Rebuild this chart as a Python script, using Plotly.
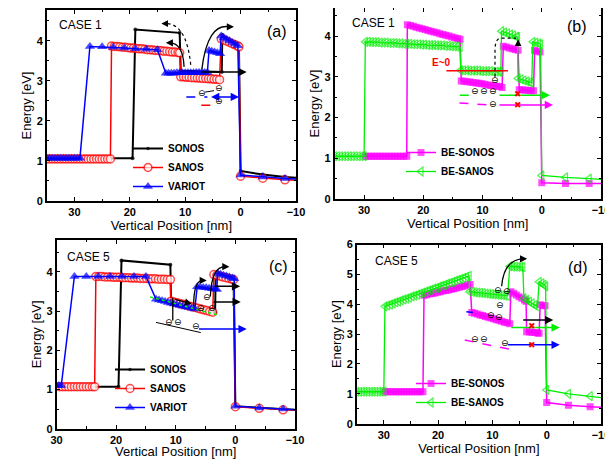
import plotly.graph_objects as go

# ---------------- data ----------------
# Panel (a): CASE 1
A_SONOS_X = [35.0, 19.5, 19.0, 11.0, 10.8, 3.4, 3.3, 0.3, 0.0, -4.0, -8.0, -10.0]
A_SONOS_Y = [1.07, 1.07, 4.28, 4.20, 3.25, 3.22, 4.15, 3.87, 0.75, 0.66, 0.60, 0.58]

A_SANOS_X = [35.0, 34.5, 34.0, 33.5, 33.0, 32.5, 32.0, 31.5, 31.0, 30.5, 30.0, 29.5,
             29.0, 28.5, 28.0, 27.5, 27.0, 26.5, 26.0, 25.5, 25.0, 24.5, 24.0, 23.5,
             23.3, 22.8, 22.3, 21.8, 21.3, 20.8, 20.3, 19.8, 19.3, 18.8, 18.3, 17.8, 17.3,
             16.8, 16.3, 15.8, 15.3, 14.8, 14.3, 13.8, 13.3, 12.8, 12.3, 11.8, 11.3, 11.0,
             10.8, 10.3, 9.8, 9.3, 8.8, 8.3, 7.8, 7.3, 6.8, 6.3, 5.8, 5.3, 4.8, 4.3, 3.8,
             3.5, 3.0, 2.5, 2.0, 1.5, 1.0, 0.5, 0.3,
             0.0, -4.0, -8.0, -10.0]
A_SANOS_Y = [1.05, 1.05, 1.05, 1.05, 1.05, 1.05, 1.05, 1.05, 1.05, 1.05, 1.05, 1.05,
             1.05, 1.05, 1.05, 1.05, 1.05, 1.05, 1.05, 1.05, 1.05, 1.05, 1.05, 1.05,
             3.87, 3.86, 3.86, 3.85, 3.84, 3.84, 3.83, 3.82, 3.82, 3.81, 3.80, 3.80, 3.79,
             3.78, 3.78, 3.77, 3.76, 3.76, 3.75, 3.74, 3.74, 3.73, 3.72, 3.72, 3.71, 3.70,
             3.10, 3.10, 3.09, 3.09, 3.08, 3.08, 3.07, 3.07, 3.06, 3.06, 3.05, 3.05, 3.04, 3.04, 3.03,
             4.05, 4.02, 3.99, 3.96, 3.93, 3.90, 3.87, 3.85,
             0.62, 0.57, 0.53, 0.52]

A_VARIOT_X = [35.0, 34.5, 34.0, 33.5, 33.0, 32.5, 32.0, 31.5, 31.0, 30.5, 30.0, 29.5, 29.0,
              27.2, 25.0, 23.0, 21.0, 19.0, 17.0, 15.0,
              13.5, 13.0, 12.5, 12.0, 11.5, 11.0, 10.5, 10.0, 9.5, 9.0, 8.5, 8.0, 7.5, 7.0, 6.5, 6.0,
              5.7, 5.2, 4.7, 4.2, 3.7,
              3.5, 3.0, 2.5, 2.0, 1.5, 1.0, 0.5,
              0.0, -4.0, -8.0, -10.0]
A_VARIOT_Y = [1.07, 1.07, 1.07, 1.07, 1.07, 1.07, 1.07, 1.07, 1.07, 1.07, 1.07, 1.07, 1.07,
              3.86, 3.85, 3.84, 3.82, 3.80, 3.79, 3.78,
              3.19, 3.19, 3.19, 3.19, 3.20, 3.20, 3.20, 3.20, 3.20, 3.20, 3.20, 3.21, 3.21, 3.21, 3.21, 3.21,
              3.76, 3.74, 3.72, 3.70, 3.68,
              4.12, 4.08, 4.04, 4.00, 3.96, 3.92, 3.88,
              0.65, 0.60, 0.56, 0.55]

# Panel (b): CASE 1
B_BESONOS_X = [29.8, 29.3, 28.8, 28.3, 27.8, 27.3, 26.8, 26.3, 25.8, 25.3, 24.8, 24.3, 23.8, 23.3, 22.8,
               22.7, 22.2, 21.7, 21.2, 20.7, 20.2, 19.7, 19.2, 18.7, 18.2, 17.7, 17.2, 16.7, 16.2,
               15.7, 15.2, 14.7, 14.2, 13.8,
               13.6, 13.1, 12.6, 12.1, 11.6, 11.1, 10.6, 10.1, 9.6, 9.1, 8.6, 8.1, 7.6, 7.1, 6.7,
               6.5, 6.0, 5.5, 5.0, 4.5, 4.0,
               3.8, 3.3, 2.8, 2.3, 1.8, 1.4,
               1.2, 0.8, 0.3,
               0.0, -4.0, -8.0, -10.0]
B_BESONOS_Y = [1.05, 1.05, 1.05, 1.05, 1.05, 1.05, 1.05, 1.05, 1.05, 1.05, 1.05, 1.05, 1.05, 1.05, 1.05,
               4.28, 4.26, 4.24, 4.22, 4.20, 4.18, 4.16, 4.14, 4.12, 4.10, 4.08, 4.06, 4.04, 4.02,
               4.00, 3.98, 3.96, 3.94, 3.92,
               2.90, 2.89, 2.88, 2.87, 2.86, 2.85, 2.84, 2.83, 2.82, 2.80, 2.79, 2.78, 2.77, 2.76, 2.74,
               3.75, 3.73, 3.71, 3.69, 3.67, 3.65,
               2.68, 2.68, 2.67, 2.67, 2.66, 2.66,
               3.65, 3.63, 3.61,
               0.40, 0.38, 0.38, 0.38]

B_BESANOS_X = [35.0, 34.5, 34.0, 33.5, 33.0, 32.5, 32.0, 31.5, 31.0, 30.5, 30.0,
               29.8, 29.3, 28.8, 28.3, 27.8, 27.3, 26.8, 26.3, 25.8, 25.3, 24.8, 24.3, 23.8, 23.3,
               22.8, 22.3, 21.8, 21.3, 20.8, 20.3, 19.8, 19.3, 18.8, 18.3, 17.8, 17.3, 16.8, 16.3,
               15.8, 15.3, 14.8, 14.3, 13.8,
               13.7, 13.2, 12.7, 12.2, 11.7, 11.2, 10.7, 10.2, 9.7, 9.2, 8.7, 8.2, 7.7, 7.2, 6.9,
               6.8, 6.3, 5.8, 5.3, 4.8, 4.3, 4.1,
               4.0, 3.5, 3.0, 2.5, 2.0, 1.7,
               1.5, 1.0, 0.5, 0.2,
               0.0, -4.0, -8.0, -10.0]
B_BESANOS_Y = [1.05, 1.05, 1.05, 1.05, 1.05, 1.05, 1.05, 1.05, 1.05, 1.05, 1.05,
               3.86, 3.86, 3.85, 3.85, 3.85, 3.84, 3.84, 3.84, 3.83, 3.83, 3.83, 3.82, 3.82, 3.81,
               3.81, 3.81, 3.80, 3.80, 3.80, 3.79, 3.79, 3.78, 3.78, 3.78, 3.77, 3.77, 3.77, 3.76,
               3.76, 3.75, 3.75, 3.74, 3.73,
               3.16, 3.16, 3.16, 3.15, 3.15, 3.15, 3.15, 3.14, 3.14, 3.14, 3.14, 3.13, 3.13, 3.13, 3.13,
               4.12, 4.09, 4.07, 4.04, 4.02, 3.99, 3.98,
               2.96, 2.94, 2.91, 2.89, 2.87, 2.85,
               3.86, 3.84, 3.82, 3.80,
               0.58, 0.53, 0.50, 0.48]

# Panel (c): CASE 5
C_SONOS_X = [30.0, 19.6, 19.1, 10.9, 10.8, 3.4, 3.3, 0.3, 0.0, -4.0, -8.0, -10.0]
C_SONOS_Y = [1.07, 1.07, 4.29, 4.18, 3.28, 2.97, 3.95, 3.82, 0.57, 0.53, 0.50, 0.48]

C_SANOS_X = [29.5, 29.0, 28.5, 28.0, 27.5, 27.0, 26.5, 26.0, 25.5, 25.0, 24.5, 24.0, 23.6,
             23.4, 22.9, 22.4, 21.9, 21.4, 20.9, 20.4, 19.9, 19.4, 18.9, 18.4, 17.9, 17.4,
             16.9, 16.4, 15.9, 15.4, 14.9, 14.4, 13.9, 13.4, 12.9, 12.4, 11.9, 11.4, 10.9,
             10.8, 10.3, 9.8, 9.3, 8.8, 8.3, 7.8, 7.3, 6.8, 6.3, 5.8, 5.3, 4.8, 4.3, 3.8,
             3.6, 3.1, 2.6, 2.1, 1.6, 1.1, 0.6, 0.3,
             0.0, -4.0, -8.0, -10.0]
C_SANOS_Y = [1.07, 1.07, 1.07, 1.07, 1.07, 1.07, 1.07, 1.07, 1.07, 1.07, 1.07, 1.07, 1.07,
             3.88, 3.88, 3.88, 3.87, 3.87, 3.87, 3.86, 3.86, 3.86, 3.85, 3.85, 3.85, 3.84,
             3.84, 3.84, 3.83, 3.83, 3.83, 3.82, 3.82, 3.82, 3.81, 3.81, 3.81, 3.80, 3.80,
             3.25, 3.23, 3.21, 3.19, 3.17, 3.15, 3.13, 3.11, 3.09, 3.07, 3.05, 3.03, 3.01, 2.99, 2.97,
             3.93, 3.91, 3.89, 3.87, 3.85, 3.83, 3.81, 3.80,
             0.56, 0.52, 0.48, 0.47]

C_VARIOT_X = [30.0, 29.6, 29.2,
              27.0, 25.0, 23.0, 21.0, 19.0, 17.0, 15.0,
              13.3, 12.8, 12.3, 11.8, 11.3, 10.8, 10.3, 9.8, 9.3, 8.8, 8.3, 7.8, 7.3, 6.8,
              6.4, 5.9, 5.4, 4.9, 4.4, 3.9, 3.4, 3.1,
              3.0, 2.5, 2.0, 1.5, 1.0, 0.5, 0.2,
              0.0, -4.0, -8.0, -10.0]
C_VARIOT_Y = [1.10, 1.10, 1.10,
              3.88, 3.88, 3.88, 3.88, 3.88, 3.88, 3.88,
              3.30, 3.28, 3.26, 3.24, 3.22, 3.20, 3.18, 3.16, 3.14, 3.12, 3.10, 3.09, 3.07, 3.05,
              3.62, 3.61, 3.60, 3.59, 3.58, 3.57, 3.56, 3.55,
              3.96, 3.94, 3.91, 3.89, 3.87, 3.84, 3.82,
              0.57, 0.53, 0.50, 0.48]

# Panel (d): CASE 5
D_BESONOS_X = [29.8, 29.3, 28.8, 28.3, 27.8, 27.3, 26.8, 26.3, 25.8, 25.3, 24.8, 24.3, 23.8, 23.3, 22.8,
               22.6, 22.1, 21.6, 21.1, 20.6, 20.1, 19.6, 19.1, 18.6, 18.1, 17.6, 17.1, 16.6, 16.1,
               15.6, 15.1, 14.6, 14.1,
               13.8, 13.3, 12.8, 12.3, 11.8, 11.3, 10.8, 10.3, 9.8, 9.3, 8.8, 8.3, 7.8, 7.3, 6.8,
               6.6, 6.1, 5.6, 5.1, 4.6, 4.1, 3.8,
               3.7, 3.2, 2.7, 2.2, 1.7, 1.4,
               1.2, 0.7, 0.3,
               0.0, -4.0, -8.0, -10.0]
D_BESONOS_Y = [1.07, 1.07, 1.07, 1.07, 1.07, 1.07, 1.07, 1.07, 1.07, 1.07, 1.07, 1.07, 1.07, 1.07, 1.07,
               4.30, 4.32, 4.34, 4.36, 4.38, 4.40, 4.42, 4.44, 4.46, 4.48, 4.50, 4.52, 4.54, 4.57,
               4.59, 4.61, 4.64, 4.66,
               3.72, 3.70, 3.67, 3.64, 3.62, 3.59, 3.56, 3.54, 3.51, 3.48, 3.46, 3.43, 3.40, 3.38, 3.35,
               4.42, 4.37, 4.31, 4.25, 4.20, 4.14, 4.10,
               3.08, 3.07, 3.06, 3.05, 3.04, 3.03,
               3.98, 3.96, 3.95,
               0.71, 0.62, 0.57, 0.55]

D_BESANOS_X = [35.0, 34.5, 34.0, 33.5, 33.0, 32.5, 32.0, 31.5, 31.0, 30.5, 30.0,
               29.8, 29.3, 28.8, 28.3, 27.8, 27.3, 26.8, 26.3, 25.8, 25.3, 24.8, 24.3, 23.8, 23.3,
               22.8, 22.3, 21.8, 21.3, 20.8, 20.3, 19.8, 19.3, 18.8, 18.3, 17.8, 17.3, 16.8, 16.3,
               15.8, 15.3, 14.8, 14.3,
               14.2, 13.7, 13.2, 12.7, 12.2, 11.7, 11.2, 10.7, 10.2, 9.7, 9.2, 8.7, 8.2, 7.7, 7.2,
               6.8, 6.3, 5.8, 5.3, 4.8, 4.4,
               4.2, 3.7, 3.2, 2.7, 2.2, 1.7,
               1.4, 0.9, 0.5, 0.2,
               0.0, -4.0, -8.0, -10.0]
D_BESANOS_Y = [1.07, 1.07, 1.07, 1.07, 1.07, 1.07, 1.07, 1.07, 1.07, 1.07, 1.07,
               3.93, 3.96, 3.99, 4.03, 4.06, 4.09, 4.13, 4.16, 4.19, 4.22, 4.26, 4.29, 4.32, 4.36,
               4.39, 4.42, 4.46, 4.49, 4.52, 4.55, 4.59, 4.62, 4.65, 4.69, 4.72, 4.75, 4.79, 4.82,
               4.85, 4.88, 4.92, 4.95,
               4.42, 4.41, 4.40, 4.39, 4.38, 4.37, 4.36, 4.35, 4.34, 4.33, 4.32, 4.31, 4.30, 4.29, 4.28,
               5.27, 5.26, 5.26, 5.25, 5.25, 5.24,
               4.20, 4.15, 4.09, 4.03, 3.97, 3.92,
               4.75, 4.70, 4.65, 4.60,
               1.13, 1.00, 0.92, 0.87]

X_TICKS = [30, 20, 10, 0, -10]
Y_TITLE = "Energy [eV]"
X_TITLE = "Vertical Position [nm]"

# ---------------- figure ----------------
# The page body has an 8px default margin, so the figure is drawn 8px smaller
# and every layout position below is given in window pixels minus that offset.
OFF = 8
W, H = 613 - OFF, 459 - OFF
FONT = "Arial, Liberation Sans, sans-serif"
MAGENTA = "#ff00ff"
GREEN = "#00ee00"


def px(v):
    return min(1.0, max(0.0, (v - OFF) / W))


def py(v):
    return min(1.0, max(0.0, 1 - (v - OFF) / H))


STY = {
    "SONOS": dict(color="black", lw=2.0, symbol="circle", size=4, fill="black", mlw=0),
    "SANOS": dict(color="red", lw=1.5, symbol="circle", size=8, fill="white", mlw=1.5),
    "VARIOT": dict(color="blue", lw=1.5, symbol="triangle-up", size=9, fill="blue", mlw=0),
    "BE-SONOS": dict(color=MAGENTA, lw=1.5, symbol="square", size=7, fill=MAGENTA, mlw=0),
    "BE-SANOS": dict(color=GREEN, lw=1.3, symbol="triangle-left-open", size=8, fill=GREEN, mlw=1.2),
}

fig = go.Figure()


def series(x, y, name, xa, ya, leg):
    s = STY[name]
    sizes = [s["size"]] * (len(x) - 1) + [0]
    fig.add_trace(go.Scatter(
        x=x, y=y, name=name, mode="lines+markers", xaxis=xa, yaxis=ya, legend=leg,
        line=dict(color=s["color"], width=s["lw"]),
        marker=dict(symbol=s["symbol"], size=sizes, color=s["fill"],
                    line=dict(color=s["color"], width=s["mlw"])),
    ))


series(A_SONOS_X, A_SONOS_Y, "SONOS", "x", "y", "legend")
series(A_SANOS_X, A_SANOS_Y, "SANOS", "x", "y", "legend")
series(A_VARIOT_X, A_VARIOT_Y, "VARIOT", "x", "y", "legend")
series(B_BESONOS_X, B_BESONOS_Y, "BE-SONOS", "x2", "y2", "legend2")
series(B_BESANOS_X, B_BESANOS_Y, "BE-SANOS", "x2", "y2", "legend2")
series(C_SONOS_X, C_SONOS_Y, "SONOS", "x3", "y3", "legend3")
series(C_SANOS_X, C_SANOS_Y, "SANOS", "x3", "y3", "legend3")
series(C_VARIOT_X, C_VARIOT_Y, "VARIOT", "x3", "y3", "legend3")
series(D_BESONOS_X, D_BESONOS_Y, "BE-SONOS", "x4", "y4", "legend4")
series(D_BESANOS_X, D_BESANOS_Y, "BE-SANOS", "x4", "y4", "legend4")

shapes = []
annos = []


def line(xa, ya, x0, y0, x1, y1, color="black", width=1.5, dash="solid"):
    shapes.append(dict(type="line", xref=xa, yref=ya, x0=x0, y0=y0, x1=x1, y1=y1,
                       line=dict(color=color, width=width, dash=dash)))


def curve(xa, ya, path, color="black", width=1.3, dash="solid"):
    shapes.append(dict(type="path", xref=xa, yref=ya, path=path,
                       line=dict(color=color, width=width, dash=dash)))


def arrow(xa, ya, x0, y0, x1, y1, color="black", width=1.5, both=False):
    annos.append(dict(xref=xa, yref=ya, axref=xa, ayref=ya, x=x1, y=y1, ax=x0, ay=y0,
                      text="", showarrow=True, arrowhead=2, arrowsize=1.1, arrowwidth=width,
                      arrowcolor=color, arrowside="end+start" if both else "end",
                      startarrowhead=2, startarrowsize=1.1, standoff=0, startstandoff=0))


def electron(xa, ya, x, y):
    annos.append(dict(xref=xa, yref=ya, x=x, y=y, text="⊖", showarrow=False,
                      font=dict(family="DejaVu Sans", size=9, color="black")))


def cross(xa, ya, x, y):
    annos.append(dict(xref=xa, yref=ya, x=x, y=y, text="✖", showarrow=False,
                      font=dict(family="DejaVu Sans", size=9, color="red")))


# (a)
curve("x", "y", "M 9.0,3.40 Q 9.8,4.45 13.6,4.43", width=1.2, dash="dot")
arrow("x", "y", 13.5, 4.43, 14.3, 4.43, width=1.2)
curve("x", "y", "M 10.2,3.35 Q 10.4,3.95 12.8,3.95", width=1.3)
arrow("x", "y", 12.7, 3.95, 13.5, 3.95, width=1.3)
curve("x", "y", "M 7.0,3.28 Q 6.0,4.45 2.0,4.35", width=1.3)
arrow("x", "y", 2.1, 4.35, 1.2, 4.35, width=1.3)
arrow("x", "y", 7.4, 3.22, -1.1, 3.22)
line("x", "y", 9.8, 2.6, 6.0, 2.6, color="blue", dash="dash")
arrow("x", "y", 5.6, 2.6, 0.3, 2.6, color="blue", both=True)
line("x", "y", 7.1, 2.39, 4.4, 2.39, color="red", dash="dash")
line("x", "y", 6.4, 2.72, 4.6, 2.76, width=1.0, dash="dash")
electron("x", "y", 7.05, 2.69)
electron("x", "y", 3.9, 2.82)
electron("x", "y", 3.9, 2.50)

# (b)
line("x2", "y2", 16.1, 3.15, 5.7, 3.15, color="red", width=1.5)
annos.append(dict(xref="x2", yref="y2", x=16.9, y=3.34, text="E~0", showarrow=False,
                  font=dict(family=FONT, size=10, color="red", weight="bold")))
curve("x2", "y2", "M 7.9,3.0 L 7.9,3.65 Q 7.9,3.95 6.8,3.95 L 4.3,3.95", width=1.2, dash="dot")
arrow("x2", "y2", 4.0, 3.78, 4.0, 3.92, width=1.2)
line("x2", "y2", 13.85, 2.55, 11.3, 2.55, color=GREEN, dash="dash")
arrow("x2", "y2", 7.4, 2.55, -1.4, 2.55, color=GREEN)
line("x2", "y2", 13.9, 2.36, 9.0, 2.31, color=MAGENTA, dash="dash")
arrow("x2", "y2", 7.4, 2.31, -1.9, 2.31, color=MAGENTA)
electron("x2", "y2", 7.9, 2.93)
electron("x2", "y2", 11.3, 2.65)
electron("x2", "y2", 9.75, 2.65)
electron("x2", "y2", 8.2, 2.65)
electron("x2", "y2", 8.2, 2.34)
cross("x2", "y2", 4.0, 2.58)
cross("x2", "y2", 4.0, 2.30)

# (c)
line("x3", "y3", 14.3, 3.36, 2.55, 2.88, color=GREEN, width=1.5, dash="dot")
arrow("x3", "y3", 10.4, 3.31, 7.3, 3.18, width=1.3)
line("x3", "y3", 10.5, 3.34, 10.5, 2.76, width=1.3)
curve("x3", "y3", "M 7.0,3.12 Q 7.0,3.80 5.4,3.78", width=1.3)
arrow("x3", "y3", 5.5, 3.78, 4.8, 3.78, width=1.3)
curve("x3", "y3", "M 4.2,3.37 Q 4.0,4.15 1.6,4.13", width=1.3)
arrow("x3", "y3", 1.7, 4.13, 1.0, 4.13, width=1.3)
arrow("x3", "y3", 3.7, 3.63, -0.8, 3.63)
arrow("x3", "y3", 3.9, 3.23, -0.9, 3.23)
line("x3", "y3", 13.3, 2.71, 5.8, 2.45, width=1.0)
arrow("x3", "y3", 6.35, 2.54, -1.9, 2.54, color="blue")
for ex, ey in [(11.2, 2.71), (9.7, 2.71), (6.56, 2.61), (5.7, 3.08), (4.78, 3.36), (3.9, 3.08)]:
    electron("x3", "y3", ex, ey)

# (d)
curve("x4", "y4", "M 8.3,4.60 Q 7.9,5.50 4.3,5.52", width=1.3)
arrow("x4", "y4", 4.4, 5.52, 3.6, 5.52, width=1.3)
line("x4", "y4", 15.1, 2.80, 6.2, 2.47, color=MAGENTA, dash="dash")
line("x4", "y4", 14.8, 3.75, 13.6, 3.72, color="blue")
arrow("x4", "y4", 4.6, 3.47, -1.2, 3.47)
arrow("x4", "y4", 6.8, 3.22, -2.4, 3.22, color=GREEN)
arrow("x4", "y4", 7.4, 2.64, -2.4, 2.64, color="blue")
for ex, ey in [(8.9, 4.47), (7.3, 4.44), (10.3, 3.64), (8.8, 3.58), (8.6, 3.96),
               (13.2, 2.82), (11.6, 2.82), (7.7, 2.69)]:
    electron("x4", "y4", ex, ey)
cross("x4", "y4", 2.78, 3.27)
cross("x4", "y4", 2.78, 2.64)

# panel labels
for txt, x0, y0 in [("CASE 1", 57, 25), ("CASE 1", 350, 23), ("CASE 5", 65, 257), ("CASE 5", 373, 261)]:
    annos.append(dict(xref="paper", yref="paper", x=px(x0), y=py(y0), xanchor="left", yanchor="middle",
                      text=txt, showarrow=False, font=dict(family=FONT, size=12, color="black")))
for txt, x0, y0 in [("(a)", 277, 31), ("(b)", 577, 26), ("(c)", 278, 266), ("(d)", 578, 267)]:
    annos.append(dict(xref="paper", yref="paper", x=px(x0), y=py(y0), xanchor="center", yanchor="middle",
                      text=txt, showarrow=False, font=dict(family=FONT, size=16, color="black")))


def xaxis(dom, anchor, rng):
    return dict(domain=dom, anchor=anchor, range=rng, tickvals=X_TICKS, ticks="inside", ticklen=4,
                tickwidth=1.2, tickcolor="black", showline=True, linecolor="black", linewidth=1.5,
                mirror="allticks", showgrid=False, zeroline=False,
                minor=dict(dtick=5, ticks="inside", ticklen=2.5, tickwidth=1, tickcolor="black", showgrid=False),
                tickfont=dict(family=FONT, size=11, color="black", weight="bold"),
                title=dict(text=X_TITLE, font=dict(family=FONT, size=13, color="black"), standoff=4),
                automargin=False)


def yaxis(dom, anchor, rng):
    return dict(domain=dom, anchor=anchor, range=rng, dtick=1, ticks="inside", ticklen=4,
                tickwidth=1.2, tickcolor="black", showline=True, linecolor="black", linewidth=1.5,
                mirror="allticks", showgrid=False, zeroline=False,
                minor=dict(dtick=0.5, ticks="inside", ticklen=2.5, tickwidth=1, tickcolor="black", showgrid=False),
                tickfont=dict(family=FONT, size=11, color="black", weight="bold"),
                title=dict(text=Y_TITLE, font=dict(family=FONT, size=13, color="black"), standoff=2),
                automargin=False)


def legend(x0, y0):
    return dict(x=px(x0), y=py(y0), xanchor="left", yanchor="top", bgcolor="rgba(0,0,0,0)",
                font=dict(family=FONT, size=10, color="black", weight="bold"),
                tracegroupgap=0, itemwidth=30, borderwidth=0)


fig.update_layout(
    width=W, height=H, margin=dict(l=0, r=0, t=0, b=0),
    paper_bgcolor="white", plot_bgcolor="white", showlegend=True,
    xaxis=xaxis([px(46.7), px(296)], "y", [35, -10]),
    yaxis=yaxis([py(201), py(10)], "x", [0, 4.77]),
    xaxis2=xaxis([px(334.5), px(601)], "y2", [35, -10]),
    yaxis2=yaxis([py(199), py(8)], "x2", [0, 4.69]),
    xaxis3=xaxis([px(56.5), px(295)], "y3", [30, -10]),
    yaxis3=yaxis([py(428.7), py(240)], "x3", [0, 4.81]),
    xaxis4=xaxis([px(356.7), px(601)], "y4", [35, -10]),
    yaxis4=yaxis([py(423.7), py(244.5)], "x4", [0, 6]),
    legend=legend(128, 134),
    legend2=legend(401, 138),
    legend3=legend(110, 355),
    legend4=legend(411, 369),
    shapes=shapes,
    annotations=annos,
)

fig.write_html("out.html")
